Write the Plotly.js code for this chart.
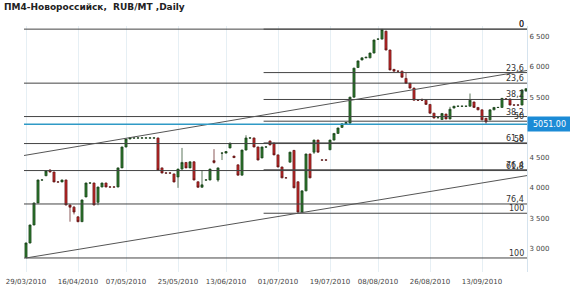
<!DOCTYPE html>
<html>
<head>
<meta charset="utf-8">
<script src="https://cdn.plot.ly/plotly-3.0.1.min.js"></script>
<style>html,body{margin:0;padding:0;background:#fff;}#chart{width:570px;height:291px;}</style>
</head>
<body>
<div id="chart"></div>
<script>
// ---- data ----
var openP = [2850,3088,3386,3750,4130,4200,4295,4262,4097,4097,4130,3716,3680,3520,3440,3850,4080,4080,3760,4014,
4080,4014,4014,4014,4330,4676,4808,4825,4825,4825,4825,4825,4825,4825,4330,4245,4245,4230,4180,4310,
4420,4330,4430,4100,4010,4130,4130,4450,4130,4575,4575,4660,4525,4380,4210,4625,4825,4825,4676,4495,
4676,4775,4740,4545,4345,4165,4425,4620,4100,3600,3950,4560,4590,4790,4460,4460,4630,4790,4900,5000,
5060,5070,5500,5990,6115,6150,6150,6230,6460,6460,6590,6280,5960,5930,5930,5810,5730,5650,5450,5450,
5450,5380,5235,5160,5130,5220,5140,5320,5350,5350,5350,5350,5420,5330,5290,5150,5125,5290,5330,5330,
5470,5470,5370,5370,5370,5600];
var highP = [3095,3390,3755,4135,4135,4290,4305,4265,4100,4135,4135,3730,3700,3530,3805,4085,4085,4085,4018,4085,
4085,4018,4018,4335,4680,4812,4830,4830,4830,4830,4830,4830,4830,4830,4335,4250,4250,4235,4315,4660,
4425,4435,4440,4105,4295,4135,4315,4640,4335,4580,4605,4745,4530,4385,4630,4870,4830,4830,4680,4680,
4680,4780,4745,4550,4350,4170,4595,4625,4105,3955,4565,4565,4795,4795,4465,4465,4795,4905,4995,5065,
5085,5505,5985,6105,6155,6165,6235,6450,6465,6625,6600,6285,5965,5935,5935,5900,5735,5655,5455,5480,
5455,5385,5240,5165,5235,5225,5340,5355,5355,5355,5355,5560,5425,5335,5295,5155,5295,5335,5335,5485,
5475,5475,5375,5375,5625,5645];
var lowP = [2840,3080,3380,3745,4125,4195,4255,4095,4092,4095,3712,3440,3560,3432,3435,3845,4075,3712,3712,4010,
4010,4010,4010,4010,4325,4670,4805,4820,4820,4820,4820,4820,4820,4290,4240,4240,4240,4092,4000,4300,
4325,4325,4125,4000,4005,4125,4125,4400,4100,4460,4570,4655,4495,4205,4205,4620,4820,4670,4455,4490,
4672,4705,4540,4340,4160,4160,4420,3995,3580,3595,3945,4160,4560,4585,4455,4455,4625,4785,4895,4995,
5055,5065,5495,5985,6110,6145,6145,6225,6455,6455,6275,5945,5925,5925,5825,5725,5645,5445,5445,5445,
5375,5230,5150,5155,5125,5135,5135,5315,5345,5345,5345,5345,5325,5285,5120,5060,5120,5285,5325,5325,
5465,5365,5365,5365,5365,5595];
var closeP = [3088,3386,3750,4130,4130,4280,4262,4097,4097,4130,3716,3680,3600,3440,3800,4080,4080,3716,4014,4080,
4014,4014,4014,4330,4676,4808,4825,4825,4825,4825,4825,4825,4825,4295,4245,4245,4245,4097,4310,4420,
4330,4430,4130,4010,4050,4130,4310,4420,4330,4575,4600,4740,4500,4210,4625,4825,4825,4676,4460,4676,
4676,4710,4545,4345,4165,4165,4590,4000,3600,3950,4560,4165,4790,4590,4460,4460,4790,4900,4990,5060,
5080,5500,5980,6100,6150,6160,6230,6445,6460,6620,6280,5950,5930,5930,5830,5730,5650,5450,5450,5450,
5380,5235,5155,5160,5230,5140,5300,5350,5350,5350,5350,5450,5330,5290,5125,5090,5290,5330,5330,5480,
5470,5370,5370,5370,5620,5640];
var dateLabels = ["29/03/2010","16/04/2010","07/05/2010","25/05/2010","13/06/2010","01/07/2010","19/07/2010","08/08/2010","26/08/2010","13/09/2010"];
var dateBars = [0,13,25,38,50,63,76,88,101,114];
var fibLevels = [0,23.6,38.2,50,61.8,76.4,100];
var fibText = ["0","23,6","38,2","50","61,8","76,4","100"];
var lastPrice = 5051.00;
var yTicks = [3000,3500,4000,4500,5500,6000,6500];
// trend lines (bar index, price)
var upperTrendX = [-0.5,125.25], upperTrendY = [4535,5941];
var lowerTrendX = [0,68], lowerTrendY = [2840,3580];
var fibBStart = 59.4;

// ---- build ----
var n = closeP.length;
var xs = []; for (var i=0;i<n;i++) xs.push(i);
var hi = Math.max.apply(null, highP);
var loA = Math.min.apply(null, lowP);
var loB = Math.min.apply(null, lowP.slice(60));
var xEnd = 125.25;

var shapes = [], ann = [];
function fibSet(lo, x0){
  fibLevels.forEach(function(p, k){
    var v = hi - p/100*(hi-lo);
    shapes.push({type:'line', xref:'x', yref:'y', x0:x0, x1:xEnd, y0:v, y1:v, line:{color:'#444', width:1}, layer:'above'});
    ann.push({xref:'paper', yref:'y', x:1, y:v, xanchor:'right', yanchor:'bottom', xshift:-2, yshift:-1, text:fibText[k], showarrow:false, borderpad:0,
      font:{family:'DejaVu Sans', size:8, color:'#333'}});
  });
}
fibSet(loA, -0.5);
fibSet(loB, fibBStart);
shapes.push({type:'line', xref:'x', yref:'y', x0:upperTrendX[0], x1:upperTrendX[1], y0:upperTrendY[0], y1:upperTrendY[1], line:{color:'#555', width:1}, layer:'above'});
var slope = (lowerTrendY[1]-lowerTrendY[0])/(lowerTrendX[1]-lowerTrendX[0]);
shapes.push({type:'line', xref:'x', yref:'y', x0:lowerTrendX[0], x1:xEnd, y0:lowerTrendY[0], y1:lowerTrendY[0]+slope*(xEnd-lowerTrendX[0]), line:{color:'#555', width:1}, layer:'above'});
shapes.push({type:'line', xref:'x', yref:'y', x0:-0.5, x1:xEnd, y0:lastPrice, y1:lastPrice, line:{color:'#2f9ac6', width:1.5}, layer:'above'});
ann.push({xref:'paper', yref:'y', x:1, y:lastPrice, xanchor:'left', yanchor:'middle', text:lastPrice.toFixed(2), showarrow:false,
  bgcolor:'#1c8bd6', width:41, height:12, borderpad:1, font:{family:'DejaVu Sans', size:8, color:'#fff'}});

var trace = {
  type:'candlestick', x:xs, open:openP, high:highP, low:lowP, close:closeP,
  increasing:{fillcolor:'#2e7a2e', line:{color:'#173d17', width:0.7}},
  decreasing:{fillcolor:'#c42a2a', line:{color:'#5a1212', width:0.7}},
  whiskerwidth:0, hoverinfo:'skip', showlegend:false
};

var layout = {
  width:570, height:291,
  margin:{l:24, r:43, t:26, b:19},
  paper_bgcolor:'#fff', plot_bgcolor:'#fff',
  boxgap:0.25,
  title:{text:'<b>ПМ4-Новороссийск,  RUB/MT ,Daily</b>', xref:'container', yref:'container', x:4/570, xanchor:'left', y:1-7/291, yanchor:'middle',
    font:{family:'DejaVu Sans', size:9, color:'#222'}},
  xaxis:{range:[-0.5, xEnd], rangeslider:{visible:false}, tickvals:dateBars, ticktext:dateLabels, showgrid:true, gridcolor:'#e6eff4', gridwidth:1,
    zeroline:false, showline:false, ticks:'', ticklabelstandoff:4, tickfont:{family:'DejaVu Sans', size:7, color:'#444'}, fixedrange:true},
  yaxis:{range:[2608, 6677], side:'right', tickvals:yTicks, ticktext:yTicks.map(function(v){return String(v).replace(/(\d)(\d{3})$/,'$1 $2');}),
    showgrid:false, zeroline:false, showline:true, linecolor:'#d5e3ee', linewidth:1, ticks:'', tickfont:{family:'DejaVu Sans', size:7, color:'#444'}, fixedrange:true},
  shapes:shapes, annotations:ann, showlegend:false
};
Plotly.newPlot('chart', [trace], layout, {staticPlot:true});
</script>
</body>
</html>
